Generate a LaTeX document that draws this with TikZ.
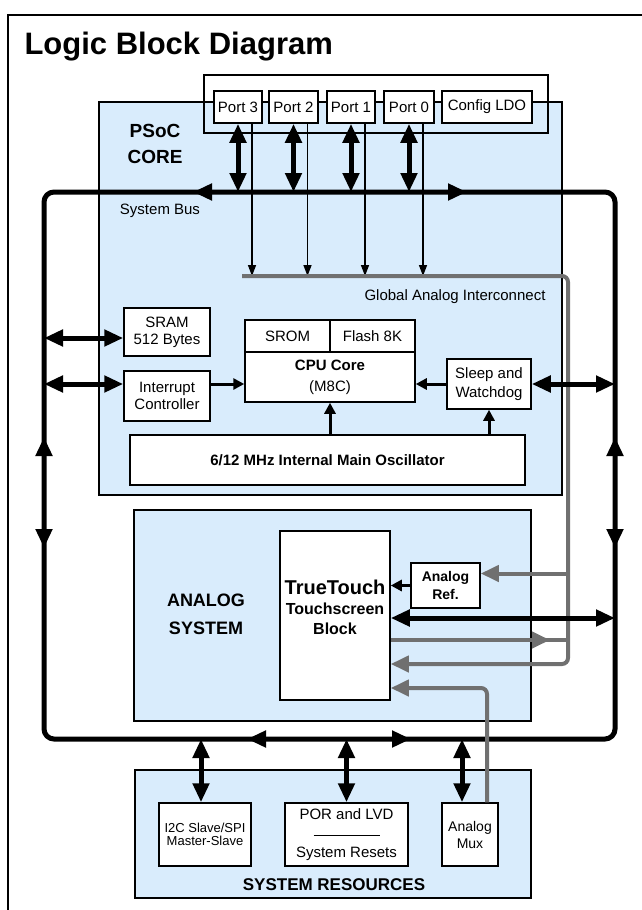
\documentclass[tikz,border=0pt]{standalone}
\usepackage{fontspec}
\setmainfont{Liberation Sans}
\usepackage{tikz}
\usetikzlibrary{arrows.meta}
\usetikzlibrary{positioning}
\definecolor{corefill}{RGB}{217,236,252}
\definecolor{aglgray}{RGB}{112,112,112}
\tikzset{
blk/.style={rectangle,draw=black,line width=1.5pt,fill=white,inner sep=0pt,align=center},
panel/.style={rectangle,draw=black,line width=2pt,fill=corefill,inner sep=0pt},
busline/.style={line width=5pt},
bushead/.style={line width=5pt,-{Triangle[length=19pt,width=16pt]}},
busboth/.style={line width=5pt,{Triangle[length=19pt,width=16pt]}-{Triangle[length=19pt,width=16pt]}},
sigarrow/.style={line width=1.5pt,-{Triangle[length=11pt,width=8pt]}},
ctrlarrow/.style={line width=3pt,-{Triangle[length=11pt,width=11pt]}},
aglline/.style={draw=aglgray,line width=4pt},
aglarrow/.style={draw=aglgray,line width=4pt,-{Triangle[length=18pt,width=16pt]}}
}
\begin{document}
\begin{tikzpicture}[x=1pt,y=-1pt,font=\fontsize{15}{17}\selectfont]
\useasboundingbox (0,0) rectangle (641,910);
\draw[line width=2pt] (8,912) -- (8,15) -- (643,15);
\node at (21,54)[anchor=base west,font=\bfseries\fontsize{31}{36}\selectfont](title){Logic Block Diagram};
\node at (330.5,298.5)[panel,minimum width=463pt,minimum height=393pt](core){};
\node at (332.5,615.5)[panel,minimum width=397pt,minimum height=211pt](analog){};
\node at (333,834)[panel,minimum width=396pt,minimum height=128pt](sysres){};
\node at (376,104)[rectangle,draw=black,line width=2pt,minimum width=344pt,minimum height=58pt](portframe){};
\node at (238,107)[blk,minimum width=48pt,minimum height=32pt](p3){Port 3};
\node at (293.5,107)[blk,minimum width=49pt,minimum height=32pt](p2){Port 2};
\node at (351,107)[blk,minimum width=48pt,minimum height=32pt](p1){Port 1};
\node at (409,107)[blk,minimum width=50pt,minimum height=32pt](p0){Port 0};
\node at (487,107)[blk,minimum width=90pt,minimum height=32pt](ldo){Config LDO};
\node at (155,144)[align=center,font=\bfseries\fontsize{19}{26}\selectfont](corelbl){PSoC\\CORE};
\node at (160,211)(buslbl){System Bus};
\node at (549,297)[anchor=east](agllbl){Global Analog Interconnect};
\node at (167,332)[blk,minimum width=86pt,minimum height=48pt](sram){SRAM\\512 Bytes};
\node at (167,396)[blk,minimum width=86pt,minimum height=50pt](intr){Interrupt\\Controller};
\node at (287.5,336)[blk,minimum width=85pt,minimum height=32pt](srom){SROM};
\node at (372.5,336)[blk,minimum width=85pt,minimum height=32pt](flash){Flash 8K};
\node at (330,377)[blk,minimum width=170pt,minimum height=50pt,font=\fontsize{15}{21}\selectfont](cpu){\textbf{CPU Core}\\(M8C)};
\node at (489,384)[blk,minimum width=84pt,minimum height=50pt,font=\fontsize{15}{19}\selectfont](sleep){Sleep and\\Watchdog};
\node at (327.5,460)[blk,minimum width=395pt,minimum height=50pt,font=\bfseries\fontsize{15}{17}\selectfont](osc){6/12 MHz Internal Main Oscillator};
\node at (206,614)[align=center,font=\bfseries\fontsize{18}{28}\selectfont](analoglbl){ANALOG\\SYSTEM};
\node at (335,615.5)[blk,minimum width=110pt,minimum height=169pt](tt){};
\node at ([yshift=8pt]tt.center)[align=center,font=\bfseries\fontsize{16}{20}\selectfont](ttlbl){{\fontsize{20}{24}\selectfont TrueTouch}\\Touchscreen\\Block};
\node at (445.5,585.5)[blk,minimum width=69pt,minimum height=45pt,font=\bfseries\fontsize{14}{18}\selectfont](ref){Analog\\Ref.};
\node at (205,834.5)[blk,minimum width=92pt,minimum height=63pt,font=\fontsize{13}{13.5}\selectfont](i2c){I2C Slave/SPI\\Master-Slave};
\node at (346.5,834.5)[blk,minimum width=123pt,minimum height=63pt,font=\fontsize{15}{19}\selectfont](por){POR and LVD\\\rule[3pt]{66pt}{0.8pt}\\System Resets};
\node at (470,834.5)[blk,minimum width=56pt,minimum height=63pt,font=\fontsize{14}{17}\selectfont](mux){Analog\\Mux};
\node at (334,885)[font=\bfseries\fontsize{17}{20}\selectfont](sysreslbl){SYSTEM RESOURCES};
\coordinate (busnw) at (44,192);
\coordinate (busse) at (615,739);
\coordinate (aglw) at (242,276);
\coordinate (aglne) at (568,276);
\coordinate (aglse) at (568,664);
\coordinate (muxturn) at (487,688);
\coordinate (sramin) at ([yshift=-6pt]sram.west);
\coordinate (ttbus) at ([yshift=-2.5pt]tt.east);
\coordinate (ttout) at ([yshift=-24.5pt]tt.east);
\coordinate (refin) at ([yshift=12pt]ref.east);
\coordinate (i2cin) at ([xshift=-4pt]i2c.north);
\coordinate (muxin) at ([xshift=-8pt]mux.north);
\coordinate (muxout) at (muxturn |- mux.north);
\draw[busline,rounded corners=10pt] (busnw) rectangle (busse);
\draw[bushead] (212,192) -- (193,192);
\draw[bushead] (448,192) -- (467,192);
\draw[bushead] (44,456) -- (44,437);
\draw[bushead] (44,529) -- (44,548);
\draw[bushead] (615,456) -- (615,437);
\draw[bushead] (615,529) -- (615,548);
\draw[bushead] (266,739) -- (247,739);
\draw[bushead] (392,739) -- (411,739);
\foreach \p in {p3,p2,p1,p0}{
\draw[busboth] (\p.south) -- (\p.south |- busnw);
\coordinate (\p t) at ([xshift=14pt]\p.south);
\draw[sigarrow] (\p t) -- (\p t |- aglw);
}
\draw[aglarrow,rounded corners=6pt] (aglw) -- (aglne) -- (aglse) -- (tt.east |- aglse);
\draw[aglarrow] (aglne |- refin) -- (refin);
\draw[aglline] (ttout) -- (aglne |- ttout);
\draw[aglarrow] (ttout) -- ([xshift=-18pt]aglne |- ttout);
\draw[aglarrow,rounded corners=6pt] (muxout) -- (muxturn) -- (tt.east |- muxturn);
\draw[busboth] (busnw |- sramin) -- (sramin);
\draw[busboth] (busnw |- sleep.west) -- (intr.west |- sleep.west);
\draw[ctrlarrow] (intr.east |- sleep.west) -- (cpu.west |- sleep.west);
\draw[ctrlarrow] (sleep.west) -- (cpu.east |- sleep.west);
\draw[busboth] (sleep.east) -- (busse |- sleep.east);
\draw[ctrlarrow] (cpu.south |- osc.north) -- (cpu.south);
\draw[ctrlarrow] (sleep.south |- osc.north) -- (sleep.south);
\draw[ctrlarrow] (ref.west) -- (tt.east |- ref.west);
\draw[busboth] (ttbus) -- (busse |- ttbus);
\draw[busboth] (i2cin |- busse) -- (i2cin);
\draw[busboth] (por.north |- busse) -- (por.north);
\draw[busboth] (muxin |- busse) -- (muxin);
\end{tikzpicture}
\end{document}
